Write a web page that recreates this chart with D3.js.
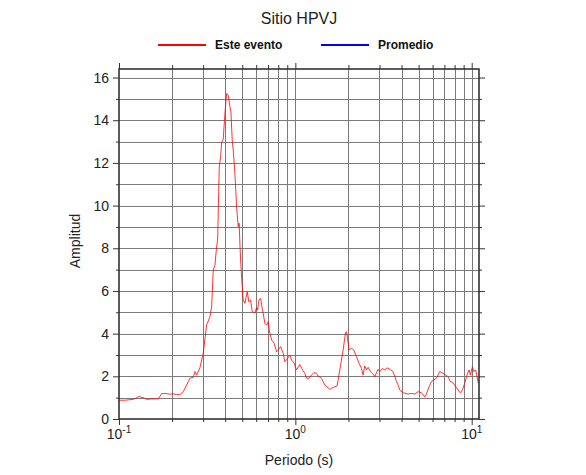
<!DOCTYPE html>
<html>
<head>
<meta charset="utf-8">
<script src="https://cdn.jsdelivr.net/npm/d3@7"></script>
<style>
  body { margin: 0; background: #fff; }
  text { font-family: "Liberation Sans", Arial, sans-serif; }
</style>
</head>
<body>
<div id="chart"></div>
<script>
'use strict';

// periodo (s) y amplitud
var periods = [0.100, 0.108, 0.1205, 0.1298, 0.1373, 0.1435, 0.1532, 0.1670, 0.1746, 0.1863,
  0.1945, 0.2030, 0.2123, 0.2216, 0.2314, 0.2418, 0.2525, 0.2636, 0.2696, 0.2756,
  0.2877, 0.2942, 0.3003, 0.3139, 0.3279, 0.3352, 0.3423, 0.3499, 0.3577, 0.3625,
  0.3702, 0.3770, 0.3819, 0.3899, 0.3987, 0.4076, 0.4163, 0.4256, 0.4312, 0.4385,
  0.4443, 0.4542, 0.4644, 0.4742, 0.4804, 0.4849, 0.4893, 0.4958, 0.5062, 0.5176,
  0.5334, 0.5453, 0.5576, 0.5693, 0.5897, 0.6031, 0.6110, 0.6215, 0.6354, 0.6488,
  0.6720, 0.6871, 0.7016, 0.7109, 0.7335, 0.7588, 0.7830, 0.7994, 0.8248, 0.8532,
  0.8723, 0.9035, 0.9308, 0.9517, 0.9845, 1.0157, 1.0605, 1.0985, 1.1319, 1.1574,
  1.1973, 1.2354, 1.2730, 1.3186, 1.3465, 1.4075, 1.4695, 1.5686, 1.6375, 1.7250,
  1.7867, 1.8654, 1.9248, 1.9502, 1.9760, 2.0175, 2.0817, 2.1450, 2.2220, 2.2990,
  2.3714, 2.4216, 2.4762, 2.5316, 2.5852, 2.6675, 2.7378, 2.8210, 2.9450, 3.0113,
  3.1195, 3.2144, 3.3120, 3.4306, 3.5536, 3.6617, 3.7444, 3.8229, 3.9089, 4.0810,
  4.3568, 4.5545, 4.7548, 4.9642, 5.1880, 5.4168, 5.5380, 5.7299, 5.9120, 6.0920,
  6.3096, 6.5873, 6.8773, 7.1240, 7.3406, 7.5744, 7.7760, 8.0129, 8.3654, 8.6298,
  8.8580, 9.1272, 9.4080, 9.6540, 9.8311, 10.092, 10.263, 10.536, 10.715, 10.914];

var esteEvento = [0.88, 0.88, 0.92, 1.05, 1.00, 0.92, 0.94, 0.94, 1.19, 1.19,
  1.16, 1.18, 1.14, 1.14, 1.28, 1.59, 1.91, 1.95, 2.22, 2.06,
  2.40, 2.76, 3.08, 4.40, 4.79, 5.26, 6.98, 7.21, 8.07, 8.38,
  11.8, 12.3, 12.95, 13.1, 14.32, 15.25, 15.18, 14.63, 14.39, 13.07,
  12.60, 11.51, 9.94, 9.01, 9.17, 8.2, 7.45, 6.65, 5.57, 5.42,
  5.96, 5.49, 5.57, 5.03, 4.98, 5.23, 5.10, 5.57, 5.65, 5.19,
  4.48, 4.40, 4.56, 4.17, 3.70, 3.55, 3.15, 3.23, 3.39, 3.08,
  2.68, 2.84, 3.00, 2.76, 2.61, 2.30, 2.55, 2.30, 2.14, 1.91,
  1.91, 2.06, 2.17, 2.14, 2.01, 1.91, 1.59, 1.39, 1.48, 1.55,
  2.30, 3.23, 4.04, 4.09, 3.78, 3.23, 3.31, 3.23, 2.92, 2.61,
  2.37, 2.06, 2.48, 2.30, 2.42, 2.22, 2.14, 1.98, 2.33, 2.22,
  2.37, 2.30, 2.40, 2.33, 2.25, 2.02, 1.75, 1.60, 1.36, 1.23,
  1.17, 1.20, 1.17, 1.28, 1.23, 1.04, 1.17, 1.51, 1.75, 1.83,
  1.91, 2.22, 2.14, 2.06, 1.98, 1.75, 1.72, 1.59, 1.36, 1.23,
  1.36, 1.67, 2.06, 2.30, 2.06, 2.45, 2.22, 2.30, 1.98, 1.67];

var seriesNames = ['Este evento', 'Promedio'];
var seriesColors = ['#ff0000', '#0000ff'];

var xMajor = [0.1, 1, 10];
var xMinor = [0.2, 0.3, 0.4, 0.5, 0.6, 0.7, 0.8, 0.9, 2, 3, 4, 5, 6, 7, 8, 9];
var xExp = ['-1', '0', '1'];
var yMajor = [0, 2, 4, 6, 8, 10, 12, 14, 16];
var yMinor = [1, 3, 5, 7, 9, 11, 13, 15];

var width = 586, height = 475;
var margin = {top: 69, right: 107, bottom: 56, left: 119};
var w = width - margin.left - margin.right;
var h = height - margin.top - margin.bottom;

var svg = d3.select('#chart').append('svg')
  .attr('width', width)
  .attr('height', height);

var x = d3.scaleLog().domain([0.1, 11]).range([0, w]);
var y = d3.scaleLinear().domain([0, 16.4]).range([h, 0]);

var g = svg.append('g')
  .attr('transform', 'translate(' + margin.left + ',' + margin.top + ')');

// rejilla
var grid = g.append('g').attr('stroke', '#7a7a7a').attr('stroke-width', 1);
grid.selectAll('line.v')
  .data(xMinor.concat([1, 10]))
  .enter().append('line')
  .attr('class', 'v')
  .attr('x1', function(d) { return Math.round(x(d)) + 0.5; })
  .attr('x2', function(d) { return Math.round(x(d)) + 0.5; })
  .attr('y1', 0)
  .attr('y2', h);
grid.selectAll('line.h')
  .data(d3.range(1, 17))
  .enter().append('line')
  .attr('class', 'h')
  .attr('y1', function(d) { return Math.round(y(d)) + 0.5; })
  .attr('y2', function(d) { return Math.round(y(d)) + 0.5; })
  .attr('x1', 0)
  .attr('x2', w);

// curva
var line = d3.line()
  .x(function(d) { return x(d[0]); })
  .y(function(d) { return y(d[1]); });

g.append('path')
  .datum(d3.zip(periods, esteEvento))
  .attr('fill', 'none')
  .attr('stroke', seriesColors[0])
  .attr('stroke-width', 0.8)
  .attr('d', line);

// ejes
function styleAxis(sel) {
  sel.select('.domain').remove();
  sel.selectAll('line').attr('stroke', '#333');
  sel.selectAll('text').attr('font-size', 14).attr('fill', '#222');
}

var xb = g.append('g').attr('transform', 'translate(0,' + h + ')')
  .call(d3.axisBottom(x).tickValues(xMajor).tickSize(6).tickFormat(''));
var xbm = g.append('g').attr('transform', 'translate(0,' + h + ')')
  .call(d3.axisBottom(x).tickValues(xMinor).tickSize(3).tickFormat(''));
var xt = g.append('g')
  .call(d3.axisTop(x).tickValues(xMajor).tickSize(6).tickFormat(''));
var xtm = g.append('g')
  .call(d3.axisTop(x).tickValues(xMinor).tickSize(4).tickFormat(''));
[xb, xbm, xt, xtm].forEach(styleAxis);

var yl = g.append('g')
  .call(d3.axisLeft(y).tickValues(yMajor).tickSize(6).tickPadding(4));
var ylm = g.append('g')
  .call(d3.axisLeft(y).tickValues(yMinor).tickSize(3).tickFormat(''));
var yr = g.append('g').attr('transform', 'translate(' + w + ',0)')
  .call(d3.axisRight(y).tickValues(yMajor).tickSize(6).tickFormat(''));
var yrm = g.append('g').attr('transform', 'translate(' + w + ',0)')
  .call(d3.axisRight(y).tickValues(yMinor).tickSize(3).tickFormat(''));
[yl, ylm, yr, yrm].forEach(styleAxis);

// etiquetas 10^n
var xl = g.append('g').selectAll('text')
  .data(xMajor)
  .enter().append('text')
  .attr('x', function(d) { return x(d); })
  .attr('y', h + 20)
  .attr('text-anchor', 'middle')
  .attr('font-size', 14)
  .attr('fill', '#222');
xl.append('tspan').text('10');
xl.append('tspan')
  .attr('dy', -6)
  .attr('font-size', 10)
  .text(function(d, i) { return xExp[i]; });

// marco
g.append('rect')
  .attr('width', w)
  .attr('height', h)
  .attr('fill', 'none')
  .attr('stroke', '#333')
  .attr('stroke-width', 1.6);

// textos
svg.append('text')
  .attr('x', margin.left + w / 2)
  .attr('y', 24)
  .attr('text-anchor', 'middle')
  .attr('font-size', 16)
  .attr('fill', '#222')
  .text('Sitio HPVJ');

svg.append('text')
  .attr('x', margin.left + w / 2)
  .attr('y', 465)
  .attr('text-anchor', 'middle')
  .attr('font-size', 14)
  .attr('fill', '#222')
  .text('Periodo (s)');

svg.append('text')
  .attr('transform', 'translate(80,' + (margin.top + h / 2 - 3) + ') rotate(-90)')
  .attr('text-anchor', 'middle')
  .attr('font-size', 14)
  .attr('fill', '#222')
  .text('Amplitud');

// leyenda
var legX = [158, 321];
var leg = svg.selectAll('g.leg')
  .data(seriesNames)
  .enter().append('g')
  .attr('class', 'leg')
  .attr('transform', function(d, i) { return 'translate(' + legX[i] + ',45)'; });
leg.append('line')
  .attr('x1', 0).attr('x2', 48)
  .attr('stroke', function(d, i) { return seriesColors[i]; })
  .attr('stroke-width', 2);
leg.append('text')
  .attr('x', 57)
  .attr('y', 4)
  .attr('font-size', 12)
  .attr('font-weight', 'bold')
  .attr('fill', '#111')
  .text(function(d) { return d; });
</script>
</body>
</html>
